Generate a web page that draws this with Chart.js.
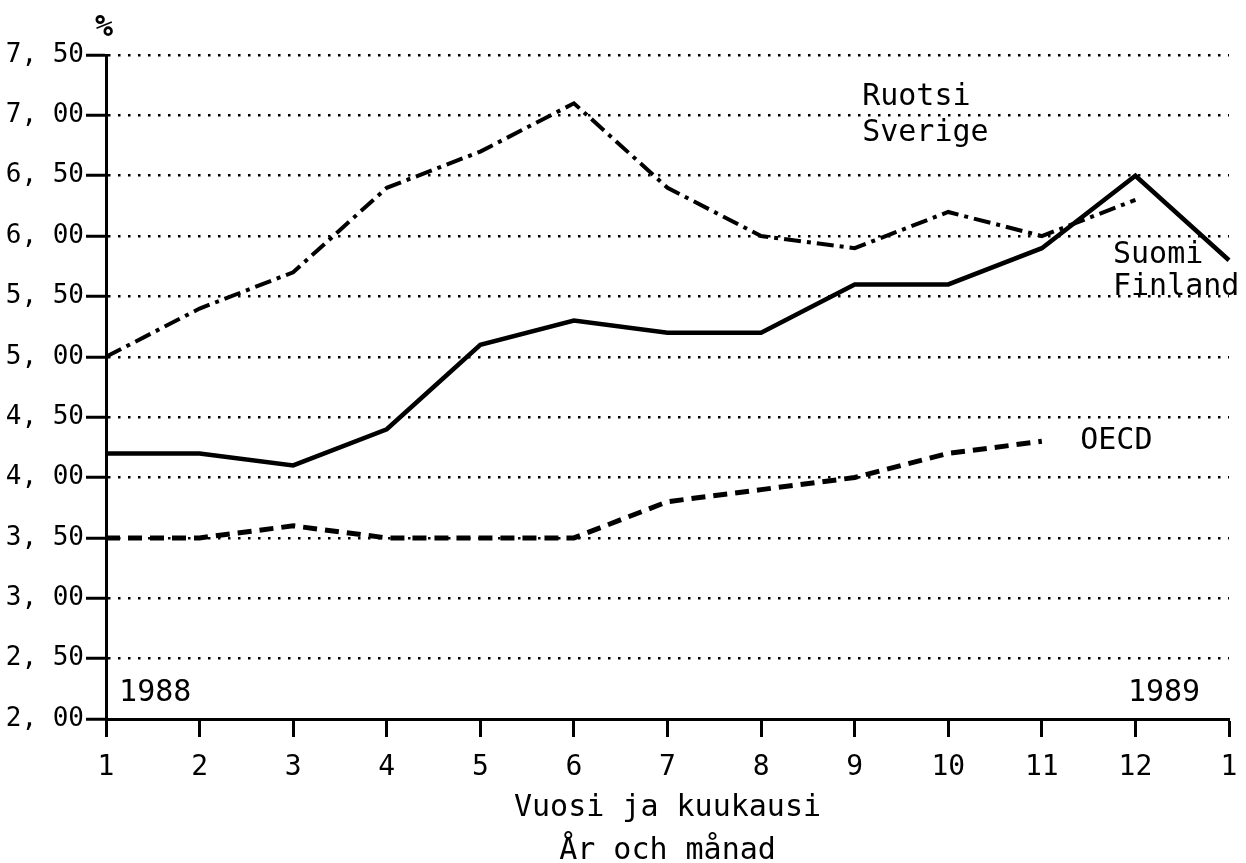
<!DOCTYPE html>
<html>
<head>
<meta charset="utf-8">
<script src="https://cdn.jsdelivr.net/npm/chart.js@4/dist/chart.umd.min.js"></script>
<style>
  html, body { margin: 0; padding: 0; background: #fff; }
  #wrap { width: 1246px; height: 863px; }
</style>
</head>
<body>
<div id="wrap"><canvas id="myChart" width="1246" height="863"></canvas></div>
<script>
// months Jan 1988 .. Jan 1989
const months = ['1', '2', '3', '4', '5', '6', '7', '8', '9', '10', '11', '12', '1'];

const suomi = [4.2, 4.2, 4.1, 4.4, 5.1, 5.3, 5.2, 5.2, 5.6, 5.6, 5.9, 6.5, 5.8];
const ruotsi = [5.0, 5.4, 5.7, 6.4, 6.7, 7.1, 6.4, 6.0, 5.9, 6.2, 6.0, 6.3];
const oecd = [3.5, 3.5, 3.6, 3.5, 3.5, 3.5, 3.8, 3.9, 4.0, 4.2, 4.3];

const yMin = 2.0;
const yMax = 7.5;
const yStep = 0.5;

const FONT = '"DejaVu Sans Mono", "Liberation Mono", monospace';

// text labels placed in data units: [text, x index, y value]
const notes = [
    ['Ruotsi', 8.08, 7.15],
    ['Sverige', 8.08, 6.85],
    ['Suomi', 10.76, 5.84],
    ['Finland', 10.76, 5.58],
    ['OECD', 10.41, 4.30],
    ['1988', 0.14, 2.21],
    ['1989', 10.92, 2.21],
];

const notesPlugin = {
    id: 'notes',
    afterDraw(chart) {
        const { ctx, scales: { x, y } } = chart;
        ctx.save();
        ctx.fillStyle = '#000';
        ctx.font = '30px ' + FONT;
        ctx.textAlign = 'left';
        ctx.textBaseline = 'middle';
        notes.forEach(([txt, xi, yv]) => {
            ctx.fillText(txt, x.getPixelForValue(xi), y.getPixelForValue(yv));
        });
        // unit mark above the y axis
        ctx.font = 'bold 30px ' + FONT;
        ctx.textAlign = 'center';
        ctx.fillText('%', y.right - 2, y.top - 27);
        ctx.restore();
    }
};

const ctx = document.getElementById('myChart').getContext('2d');

new Chart(ctx, {
    type: 'line',
    data: {
        labels: months,
        datasets: [
            {
                label: 'Suomi Finland',
                data: suomi,
                borderColor: '#000',
                borderWidth: 4.5,
                pointRadius: 0,
                tension: 0,
            },
            {
                label: 'Ruotsi Sverige',
                data: ruotsi,
                borderColor: '#000',
                borderWidth: 4,
                borderDash: [17, 6, 4, 6],
                pointRadius: 0,
                tension: 0,
            },
            {
                label: 'OECD',
                data: oecd,
                borderColor: '#000',
                borderWidth: 5,
                borderDash: [14, 8],
                pointRadius: 0,
                tension: 0,
            },
        ],
    },
    options: {
        responsive: false,
        animation: false,
        layout: { padding: { top: 55, right: 17, left: 0, bottom: -10 } },
        plugins: {
            legend: { display: false },
            tooltip: { enabled: false },
        },
        scales: {
            x: {
                offset: false,
                afterFit: (scale) => {
                    scale.height = 154;
                    scale.paddingLeft = 0;
                    scale.paddingRight = 0;
                },
                grid: {
                    drawOnChartArea: false,
                    drawTicks: true,
                    tickLength: 18,
                    tickColor: '#000',
                    tickWidth: 3,
                },
                border: { display: true, color: '#000', width: 3 },
                ticks: {
                    color: '#000',
                    font: { family: FONT, size: 28 },
                    padding: 14,
                    maxRotation: 0,
                    autoSkip: false,
                },
                title: {
                    display: true,
                    text: ['Vuosi ja kuukausi', 'År och månad'],
                    color: '#000',
                    font: { family: FONT, size: 30, lineHeight: 1.43 },
                    padding: { top: 0, bottom: 0 },
                },
            },
            y: {
                min: yMin,
                max: yMax,
                afterFit: (scale) => { scale.width = 106; },
                grid: {
                    color: (c) => (c.tick && c.tick.value === yMin ? 'rgba(0,0,0,0)' : '#000'),
                    lineWidth: 2.5,
                    tickBorderDash: [],
                    drawTicks: true,
                    tickLength: 20,
                    tickColor: '#000',
                    tickWidth: 3,
                },
                border: { display: true, color: '#000', width: 3, dash: [2.5, 7.5] },
                ticks: {
                    stepSize: yStep,
                    color: '#000',
                    padding: 2,
                    font: { family: FONT, size: 26 },
                    callback: (v) => Number(v).toFixed(2).replace('.', ', '),
                },
            },
        },
    },
    plugins: [notesPlugin],
});
</script>
</body>
</html>
